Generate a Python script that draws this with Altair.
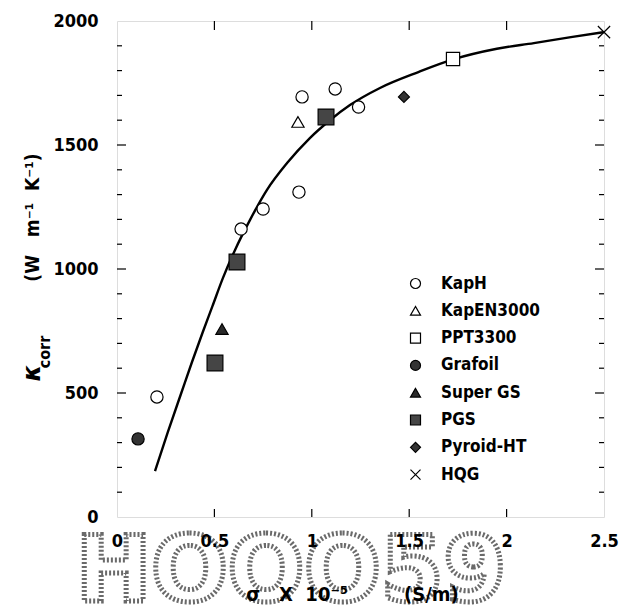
import altair as alt
import pandas as pd

# ---------------- data ----------------
series_order = ["KapH", "KapEN3000", "PPT3300", "Grafoil", "Super GS", "PGS", "Pyroid-HT", "HQG"]

kaph_x = [0.205, 0.637, 0.75, 0.934, 0.95, 1.12, 1.24]
kaph_y = [484, 1161, 1242, 1310, 1694, 1726, 1653]
kapen_x = [0.929]
kapen_y = [1593]
ppt_x = [1.725]
ppt_y = [1847]
grafoil_x = [0.108]
grafoil_y = [315]
supergs_x = [0.539]
supergs_y = [758]
pgs_x = [0.503, 0.616, 1.073]
pgs_y = [621, 1028, 1613]
pyroid_x = [1.473]
pyroid_y = [1694]
hqg_x = [2.5]
hqg_y = [1955]

curve_x = [0.195, 0.26, 0.33, 0.385, 0.44, 0.49, 0.544, 0.606, 0.683, 0.77, 0.873,
           0.99, 1.093, 1.196, 1.35, 1.55, 1.725, 1.95, 2.14, 2.33, 2.5]
curve_y = [185, 340, 500, 625, 745, 850, 964, 1077, 1198, 1319, 1427,
           1528, 1600, 1661, 1730, 1795, 1845, 1888, 1911, 1935, 1955]

x_labels = [0, 0.5, 1, 1.5, 2, 2.5]
x_inner_ticks = [0.5, 1, 1.5, 2]
y_labels = [0, 500, 1000, 1500, 2000]
y_major_ticks = [500, 1000, 1500]
y_minor_ticks = [100, 200, 300, 400, 600, 700, 800, 900, 1100, 1200, 1300, 1400,
                 1600, 1700, 1800, 1900]

# ---------------- tables ----------------
rows = []
for name, xs_, ys_ in [
    ("KapH", kaph_x, kaph_y), ("KapEN3000", kapen_x, kapen_y), ("PPT3300", ppt_x, ppt_y),
    ("Grafoil", grafoil_x, grafoil_y), ("Super GS", supergs_x, supergs_y), ("PGS", pgs_x, pgs_y),
    ("Pyroid-HT", pyroid_x, pyroid_y), ("HQG", hqg_x, hqg_y)]:
    for a, b in zip(xs_, ys_):
        rows.append({"series": name, "x": a, "y": b})
points_df = pd.DataFrame(rows)
curve_df = pd.DataFrame({"x": curve_x, "y": curve_y})
xt_df = pd.DataFrame({"x": x_inner_ticks})
ymaj_df = pd.DataFrame({"y": y_major_ticks})
ymin_df = pd.DataFrame({"y": y_minor_ticks})

W, H = 487, 496
FONT = "DejaVu Sans Condensed, Liberation Sans, sans-serif"
NB = "\u00a0"

xs = alt.Scale(domain=[0, 2.5], nice=False, zero=False)
ys = alt.Scale(domain=[0, 2000], nice=False, zero=False)

shapes = ["circle", "triangle-up", "square", "circle", "triangle-up", "square", "diamond",
          "M-1,-1L1,1M-1,1L1,-1"]
fills = ["white", "white", "white", "#333333", "#2a2a2a", "#454545", "#333333", "white"]
strokes = ["black"] * 8

leg = alt.Legend(orient="none", legendX=290, legendY=254, title=None,
                 labelFont=FONT, labelFontSize=17, labelFontWeight="bold", labelColor="black",
                 symbolSize=100, symbolStrokeWidth=1.2,
                 rowPadding=9.3, labelOffset=17, padding=0)

# curve + main labelled axes
curve = alt.Chart(curve_df).mark_line(color="black", strokeWidth=2.4, interpolate="monotone").encode(
    x=alt.X("x:Q", scale=xs, axis=alt.Axis(
        orient="bottom", values=x_labels, format="~g", ticks=False, domain=False, grid=False,
        labelPadding=15, labelFont=FONT, labelFontSize=18, labelFontWeight="bold", labelColor="black",
        labelFlush=False, labelOverlap=False,
        title="σ" + NB * 3 + "X" + NB * 2 + "10⁻⁵" + NB * 9 + "(S/m)",
        titleFont=FONT, titleFontSize=20, titleFontWeight="bold", titleColor="black",
        titleX=235, titleY=83, titleAlign="center", titleBaseline="alphabetic", zindex=1)),
    y=alt.Y("y:Q", scale=ys, axis=alt.Axis(
        orient="left", values=y_labels, format="d", ticks=False, domain=False, grid=False,
        labelPadding=19, labelFont=FONT, labelFontSize=18, labelFontWeight="bold", labelColor="black",
        labelFlush=False, labelOverlap=False,
        title="(W" + NB * 3 + "m⁻¹" + NB * 2 + "K⁻¹)",
        titleFont=FONT, titleFontSize=19, titleFontWeight="bold", titleColor="black",
        titleAngle=270, titleX=-79, titleY=196, titleAlign="center", titleBaseline="alphabetic",
        zindex=1)),
)

# data points, sizes per group (PGS larger)
def pts_layer(names, size):
    return alt.Chart(points_df).transform_filter(
        alt.FieldOneOfPredicate(field="series", oneOf=names)
    ).mark_point(filled=True, opacity=1, strokeWidth=1.2, size=size).encode(
        x=alt.X("x:Q", scale=xs),
        y=alt.Y("y:Q", scale=ys),
        shape=alt.Shape("series:N", scale=alt.Scale(domain=series_order, range=shapes), legend=leg),
        fill=alt.Fill("series:N", scale=alt.Scale(domain=series_order, range=fills), legend=leg),
        stroke=alt.Stroke("series:N", scale=alt.Scale(domain=series_order, range=strokes), legend=leg),
    )

pts_a = pts_layer(["KapH", "KapEN3000", "Grafoil", "Super GS", "HQG"], 150)
pts_b = pts_layer(["PPT3300"], 175)
pts_c = pts_layer(["PGS"], 250)
pts_d = pts_layer(["Pyroid-HT"], 120)

# inward ticks
tick_style = dict(color="black", strokeWidth=1.2)
xt_top = alt.Chart(xt_df).mark_rule(**tick_style).encode(
    x=alt.X("x:Q", scale=xs), y=alt.value(0), y2=alt.value(9))
xt_bot = alt.Chart(xt_df).mark_rule(**tick_style).encode(
    x=alt.X("x:Q", scale=xs), y=alt.value(H), y2=alt.value(H - 8))
ymaj_l = alt.Chart(ymaj_df).mark_rule(**tick_style).encode(
    y=alt.Y("y:Q", scale=ys), x=alt.value(0), x2=alt.value(9))
ymaj_r = alt.Chart(ymaj_df).mark_rule(**tick_style).encode(
    y=alt.Y("y:Q", scale=ys), x=alt.value(W), x2=alt.value(W - 9))
ymin_l = alt.Chart(ymin_df).mark_rule(**tick_style).encode(
    y=alt.Y("y:Q", scale=ys), x=alt.value(0), x2=alt.value(5))
ymin_r = alt.Chart(ymin_df).mark_rule(**tick_style).encode(
    y=alt.Y("y:Q", scale=ys), x=alt.value(W), x2=alt.value(W - 5))

# κ with subscript "corr" for the y title
kappa = alt.Chart(pd.DataFrame({"t": ["κ"]})).mark_text(
    font="DejaVu Sans", fontSize=24, fontStyle="italic", fontWeight="bold", color="black",
    angle=270, align="center", baseline="alphabetic"
).encode(text="t:N", x=alt.value(-77), y=alt.value(352))
corr = alt.Chart(pd.DataFrame({"t": ["corr"]})).mark_text(
    font=FONT, fontSize=16, fontWeight="bold", color="black",
    angle=270, align="center", baseline="alphabetic"
).encode(text="t:N", x=alt.value(-67), y=alt.value(331))

# watermark stamp below the axis
stamp = alt.Chart(pd.DataFrame({"t": ["HOOO59"]})).mark_text(
    font="DejaVu Sans", fontSize=90, fontWeight="bold", fill="white",
    stroke="#6a6a6a", strokeWidth=5, strokeDash=[2, 2], align="center", baseline="alphabetic"
).encode(text="t:N", x=alt.value(174), y=alt.value(580))

chart = alt.layer(
    stamp, xt_top, xt_bot, ymaj_l, ymaj_r, ymin_l, ymin_r, curve,
    pts_a, pts_b, pts_c, pts_d, kappa, corr
).properties(
    width=W, height=H,
    autosize=alt.AutoSizeParams(type="none"),
    padding={"left": 117, "top": 21, "right": 16, "bottom": 95},
).configure_view(stroke="black", strokeWidth=1.2).configure(background="white")

chart.save("out.html", embed_options={"renderer": "svg", "actions": False})
